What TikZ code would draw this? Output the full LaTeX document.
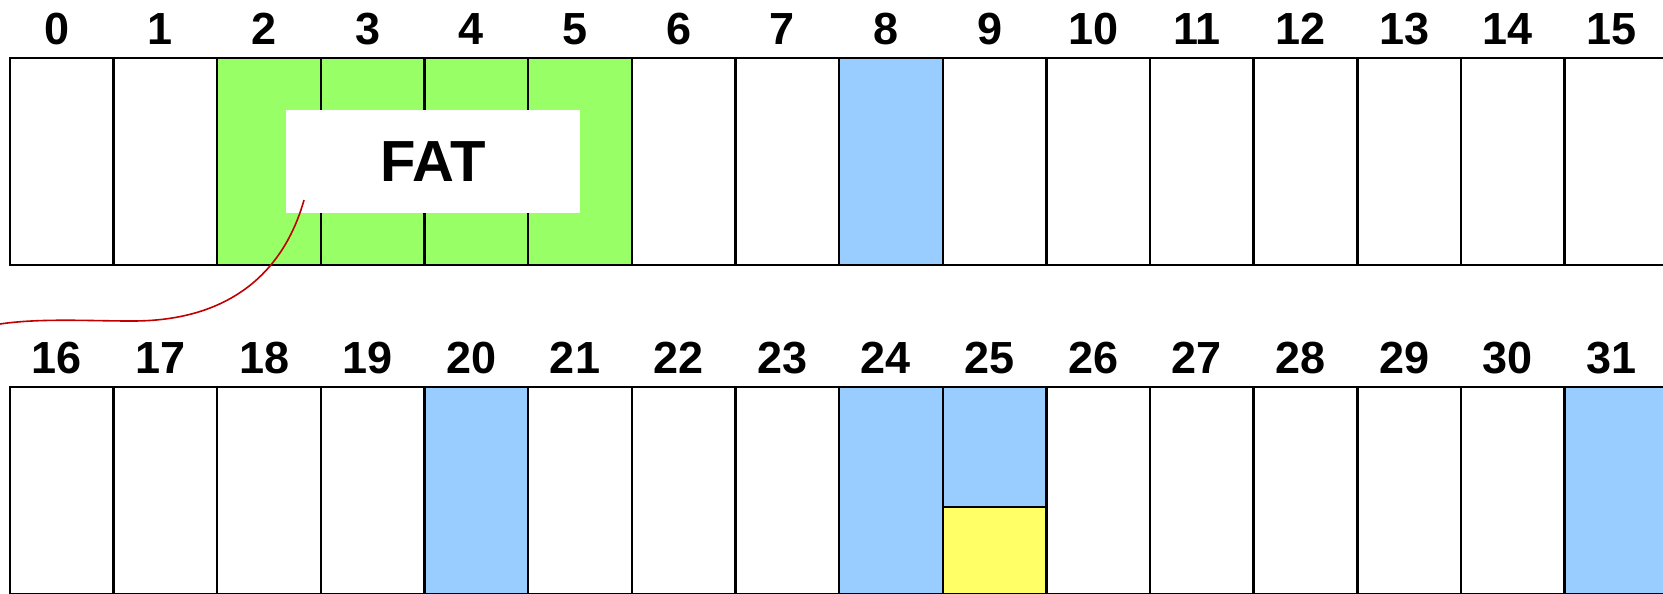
\documentclass[tikz,border=0pt]{standalone}
\usepackage{fontspec}
\setmainfont{Liberation Sans}
\definecolor{cellgreen}{HTML}{99FF66}
\definecolor{cellblue}{HTML}{99CCFF}
\definecolor{cellyellow}{HTML}{FFFF66}
\definecolor{linkred}{HTML}{C00000}
\begin{document}
\begin{tikzpicture}[x=1pt,y=-1pt,
  cell/.style={draw=black, line width=2.4pt, minimum width=103.64pt, minimum height=207pt, inner sep=0pt, outer sep=0pt, anchor=north west},
  half/.style={draw=black, line width=2.4pt, minimum width=103.64pt, minimum height=87pt, inner sep=0pt, outer sep=0pt, anchor=north west},
  num/.style={font=\fontsize{45}{45}\selectfont\bfseries, inner sep=0pt, anchor=base},
  fatbox/.style={fill=white, minimum width=294pt, minimum height=103pt, inner sep=0pt, font=\fontsize{58}{58}\selectfont\bfseries},
  link/.style={draw=linkred, line width=1.6pt}]
\useasboundingbox (0,0) rectangle (1663,594);
\clip (0,0) rectangle (1663,594);
% top row
\foreach \i in {0,...,15} {
  \pgfmathsetmacro{\xx}{10+\i*103.64}
  \pgfmathsetmacro{\cx}{5+(\i+0.5)*103.64}
  \ifnum\i=8
    \node[cell, fill=cellblue] (t\i) at (\xx,58) {};
  \else\ifnum\i>1\ifnum\i<6
    \node[cell, fill=cellgreen] (t\i) at (\xx,58) {};
  \else
    \node[cell, fill=white] (t\i) at (\xx,58) {};
  \fi\else
    \node[cell, fill=white] (t\i) at (\xx,58) {};
  \fi\fi
  \node[num] (tl\i) at (\cx,44.5) {\i};
}
% bottom row
\foreach \i in {16,...,31} {
  \pgfmathsetmacro{\xx}{10+(\i-16)*103.64}
  \pgfmathsetmacro{\cx}{5+(\i-16+0.5)*103.64}
  \def\fc{white}
  \ifnum\i=20 \def\fc{cellblue}\fi
  \ifnum\i=24 \def\fc{cellblue}\fi
  \ifnum\i=25 \def\fc{cellblue}\fi
  \ifnum\i=31 \def\fc{cellblue}\fi
  \node[cell, fill=\fc] (b\i) at (\xx,386.7) {};
  \node[num] (bl\i) at (\cx,373.5) {\i};
}
\node[half, fill=cellyellow] (y25) at (10+9*103.64,506.7) {};
% FAT box
\node[fatbox] (fat) at (433,161.7) {FAT};
% red connector
\coordinate (fatpt) at (304,200);
\coordinate (tail) at (0,324);
\draw[link] (fatpt) .. controls (290,250) and (250,322) .. (130,321)
  .. controls (90,321) and (40,318) .. (tail);
\end{tikzpicture}
\end{document}
